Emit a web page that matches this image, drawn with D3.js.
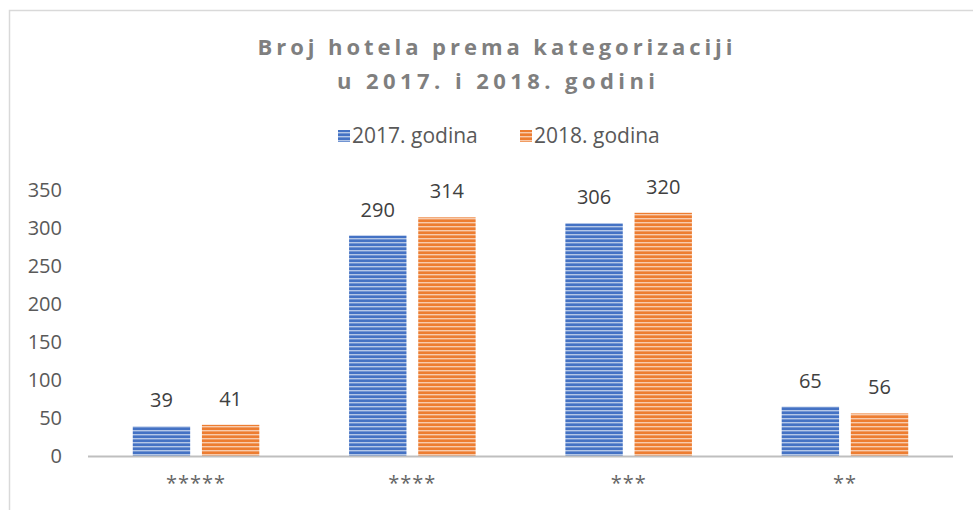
<!DOCTYPE html>
<html>
<head>
<meta charset="utf-8">
<script src="https://cdn.jsdelivr.net/npm/d3@7"></script>
<style>
  body { margin: 0; background: #fff; }
  svg { display: block; font-family: "Open Sans", sans-serif; }
</style>
</head>
<body>
<svg id="chart"></svg>
<script>
const categories = ["*****", "****", "***", "**"];
const seriesNames = ["2017. godina", "2018. godina"];
const values2017 = [39, 290, 306, 65];
const values2018 = [41, 314, 320, 56];
const yTicks = [0, 50, 100, 150, 200, 250, 300, 350];
const colors = ["#4472C4", "#ED7D31"];

const width = 973, height = 510;
const margin = {top: 190, right: 20, bottom: 54, left: 88};
const font = "'Open Sans', sans-serif";
const svg = d3.select("#chart")
    .attr("width", width)
    .attr("height", height)
    .attr("viewBox", [0, 0, width, height]);

// striped fills, like the office "narrow horizontal" pattern
const defs = svg.append("defs");
colors.forEach((c, i) => {
    const p = defs.append("pattern")
        .attr("id", "stripe" + i)
        .attr("patternUnits", "userSpaceOnUse")
        .attr("width", 8).attr("height", 4);
    p.append("rect").attr("width", 8).attr("height", 4).attr("fill", c);
    p.append("rect").attr("y", 2).attr("width", 8).attr("height", 1.4)
        .attr("fill", "#fff").attr("opacity", 0.6);
});

// outer border (only top and left are visible in the crop)
svg.append("path")
    .attr("d", `M9.5,${height} V10.5 H${width}`)
    .attr("fill", "none")
    .attr("stroke", "#d9d9d9")
    .attr("stroke-width", 1.5);

const data = categories.map((c, i) => ({name: c, v: [values2017[i], values2018[i]]}));

const x = d3.scaleBand()
    .domain(categories)
    .range([margin.left, 953])
    .paddingInner(0.415)
    .paddingOuter(0.207);

const xs = d3.scaleBand()
    .domain([0, 1])
    .range([0, x.bandwidth()])
    .paddingInner(0.17);

const y = d3.scaleLinear()
    .domain([0, 350])
    .range([456, 190]);

// title
const title = svg.append("text")
    .attr("text-anchor", "middle")
    .attr("fill", "#7f7f7f")
    .style("font-weight", "bold")
    .style("font-size", "22px");
title.append("tspan").attr("x", 495).attr("y", 55)
    .attr("textLength", 475).attr("lengthAdjust", "spacing")
    .text("Broj hotela prema kategorizaciji");
title.append("tspan").attr("x", 496).attr("y", 89)
    .attr("textLength", 318).attr("lengthAdjust", "spacing")
    .text("u 2017. i 2018. godini");

// legend
const legendPos = [338, 520];
const legend = svg.append("g")
    .selectAll("g")
    .data(seriesNames)
    .join("g")
    .attr("transform", (d, i) => `translate(${legendPos[i]},130)`);
legend.append("rect")
    .attr("width", 12).attr("height", 12)
    .attr("fill", (d, i) => `url(#stripe${i})`);
legend.append("text")
    .attr("x", 14).attr("y", 13)
    .attr("fill", "#595959")
    .style("font-size", "21px")
    .text(d => d);

// y axis labels (no line)
svg.append("g")
    .attr("transform", `translate(${margin.left - 26},0)`)
    .call(d3.axisLeft(y).tickValues(yTicks).tickSize(0).tickPadding(0))
    .call(g => g.select(".domain").remove())
    .call(g => g.selectAll("text")
        .attr("fill", "#595959")
        .style("font-size", "20px")
        .style("font-family", font));

// bars
const groups = svg.append("g")
    .selectAll("g")
    .data(data)
    .join("g")
    .attr("transform", d => `translate(${x(d.name)},0)`);

groups.selectAll("rect")
    .data(d => d.v)
    .join("rect")
    .attr("x", (d, i) => xs(i))
    .attr("y", d => y(d))
    .attr("width", xs.bandwidth())
    .attr("height", d => y(0) - y(d))
    .attr("fill", (d, i) => `url(#stripe${i})`);

groups.selectAll("text")
    .data(d => d.v)
    .join("text")
    .attr("x", (d, i) => xs(i) + xs.bandwidth() / 2)
    .attr("y", d => y(d) - 19)
    .attr("text-anchor", "middle")
    .attr("fill", "#404040")
    .style("font-size", "20px")
    .text(d => d);

// x axis baseline + category labels
svg.append("g")
    .attr("transform", `translate(0,${y(0)})`)
    .call(d3.axisBottom(x).tickSize(0).tickPadding(20))
    .call(g => g.select(".domain")
        .attr("d", `M${margin.left},0.5H953`)
        .attr("stroke", "#bfbfbf")
        .attr("stroke-width", 2))
    .call(g => g.selectAll("text")
        .attr("fill", "#666666")
        .attr("letter-spacing", "1px")
        .style("font-size", "20px")
        .style("font-family", font));
</script>
</body>
</html>
